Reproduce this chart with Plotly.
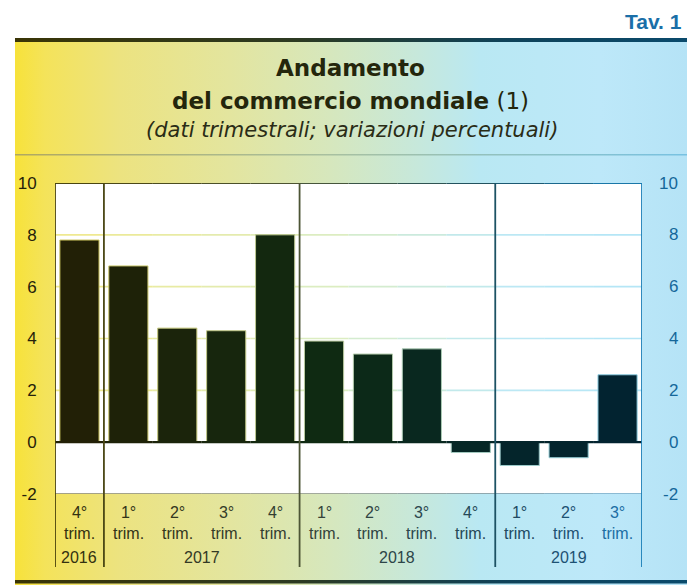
import base64
import plotly.graph_objects as go

# trimestri e variazioni percentuali
quarters = ["4°", "1°", "2°", "3°", "4°", "1°", "2°", "3°", "4°", "1°", "2°", "3°"]
values = [7.8, 6.8, 4.4, 4.3, 8.0, 3.9, 3.4, 3.6, -0.4, -0.9, -0.6, 2.6]
years = ["2016", "2017", "2018", "2019"]
year_len = [1, 4, 4, 3]
y_ticks = [-2, 0, 2, 4, 6, 8, 10]
y_labels = ["-2", "0", "2", "4", "6", "8", "10"]

W, H = 687, 585
L, R, T, B = 55, 642, 183, 494
n = len(values)


def px(x):
    return (x - L) / (R - L)


def py(y):
    return (B - y) / (B - T)


def xpix(i):
    return L + (i + 0.5) * (R - L) / n


def hexrgb(h):
    return tuple(int(h[i:i + 2], 16) for i in (1, 3, 5))


def mix(stops, x):
    if x <= stops[0][0]:
        return stops[0][1]
    for (x0, c0), (x1, c1) in zip(stops, stops[1:]):
        if x <= x1:
            f = (x - x0) / (x1 - x0)
            a, b = hexrgb(c0), hexrgb(c1)
            return "#%02x%02x%02x" % tuple(round(a[k] + (b[k] - a[k]) * f) for k in range(3))
    return stops[-1][1]


bg_stops = [(15, "#f7e23a"), (45, "#f4e35a"), (120, "#ece380"), (230, "#e3e59f"),
            (330, "#d6e7bd"), (420, "#c6e8dc"), (480, "#b9e8f3"), (600, "#bde8f9"), (687, "#b5e3f6")]
dark_stops = [(15, "#3a3506"), (300, "#2c3a22"), (500, "#0f4258"), (687, "#0a4a6c")]
thin_stops = [(15, "#b0a860"), (330, "#a8c0a0"), (687, "#78c2e2")]
bar_stops = [(55, "#241f05"), (330, "#0f2a12"), (500, "#04262a"), (642, "#012231")]
edge_stops = [(55, "#cfc65a"), (330, "#b8c8a0"), (642, "#8ccfe6")]
grid_stops = [(55, "#f1e98c"), (330, "#dcedc2"), (500, "#bde8f4"), (642, "#b3e5f6")]
frame_stops = [(55, "#4a430c"), (300, "#4c5535"), (495, "#1d5264"), (642, "#1a7eb6")]
label_stops = [(55, "#332f0c"), (330, "#33423a"), (560, "#1c4c6a"), (642, "#1a7dbd")]


def grad_svg():
    def lg(name, stops):
        s = "".join('<stop offset="%.4f" stop-color="%s"/>' % ((x - 15) / 672, c) for x, c in stops)
        return '<linearGradient id="%s" x1="0" x2="1" y1="0" y2="0">%s</linearGradient>' % (name, s)
    svg = ('<svg xmlns="http://www.w3.org/2000/svg" width="672" height="547" viewBox="0 0 672 547" preserveAspectRatio="none">'
           '<defs>' + lg("bg", bg_stops) + lg("dk", dark_stops) + lg("th", thin_stops) + '</defs>'
           '<rect x="0" y="0" width="672" height="547" fill="url(#bg)"/>'
           '<rect x="0" y="0" width="672" height="4" fill="url(#dk)"/>'
           '<rect x="0" y="116" width="672" height="1.5" fill="url(#th)"/>'
           '<rect x="0" y="542" width="672" height="3.5" fill="url(#dk)"/>'
           '</svg>')
    return "data:image/svg+xml;base64," + base64.b64encode(svg.encode()).decode()


bar_colors = [mix(bar_stops, xpix(i)) for i in range(n)]
edge_colors = [mix(edge_stops, xpix(i)) for i in range(n)]

fig = go.Figure(go.Bar(
    x=list(range(n)), y=values,
    marker=dict(color=bar_colors, line=dict(width=1, color=edge_colors)),
    width=0.8,
))

shapes = [dict(type="rect", xref="paper", yref="paper", x0=0, x1=1, y0=0, y1=1,
               fillcolor="white", line=dict(width=0), layer="below")]

# griglia orizzontale sfumata
for g in [2, 4, 6, 8]:
    for i in range(n):
        shapes.append(dict(type="line", xref="x", yref="y", x0=i - 0.5, x1=i + 0.5, y0=g, y1=g,
                           line=dict(color=mix(grid_stops, xpix(i)), width=1.6), layer="below"))

# cornice superiore e inferiore
for i in range(n):
    c = mix(frame_stops, xpix(i))
    shapes.append(dict(type="line", xref="x", yref="y", x0=i - 0.5, x1=i + 0.5, y0=10, y1=10,
                       line=dict(color=c, width=1.8), layer="above"))
    shapes.append(dict(type="line", xref="x", yref="y", x0=i - 0.5, x1=i + 0.5, y0=-2, y1=-2,
                       line=dict(color=c, width=1.2), layer="above"))
    shapes.append(dict(type="line", xref="x", yref="y", x0=i - 0.5, x1=i + 0.5, y0=0, y1=0,
                       line=dict(color=mix(bar_stops, xpix(i)), width=2.4), layer="above"))

# separatori verticali degli anni
edges = [-0.5]
for k in year_len:
    edges.append(edges[-1] + k)
for e in edges:
    xp = L + (e + 0.5) * (R - L) / n
    shapes.append(dict(type="line", xref="x", yref="paper", x0=e, x1=e, y0=py(567), y1=1,
                       line=dict(color=mix(frame_stops, xp), width=1.8), layer="above"))

annotations = []
for i, q in enumerate(quarters):
    annotations.append(dict(x=i, y=py(502), xref="x", yref="paper", yanchor="top", showarrow=False,
                            text=q + "<br>trim.",
                            font=dict(family="Liberation Sans", size=16, color=mix(label_stops, xpix(i)))))
for k, (yr, ln) in enumerate(zip(years, year_len)):
    mid = (edges[k] + edges[k + 1]) / 2
    annotations.append(dict(x=mid, y=py(557), xref="x", yref="paper", yanchor="middle", showarrow=False,
                            text=yr,
                            font=dict(family="Liberation Sans", size=16,
                                      color=mix(label_stops, L + (mid + 0.5) * (R - L) / n))))
for t, lab in zip(y_ticks, y_labels):
    annotations.append(dict(x=px(680), y=t, xref="paper", yref="y", xanchor="right", yanchor="middle",
                            showarrow=False, text=lab,
                            font=dict(family="Liberation Sans", size=17, color="#14679a")))

title_col = "#24260c"
annotations += [
    dict(x=px(351), y=py(68), xref="paper", yref="paper", showarrow=False, yanchor="middle",
         text="<b>Andamento</b>", font=dict(family="DejaVu Sans", size=23, color=title_col)),
    dict(x=px(351), y=py(101), xref="paper", yref="paper", showarrow=False, yanchor="middle",
         text="<b>del commercio mondiale</b> (1)", font=dict(family="DejaVu Sans", size=23, color=title_col)),
    dict(x=px(352), y=py(130), xref="paper", yref="paper", showarrow=False, yanchor="middle",
         text="<i>(dati trimestrali; variazioni percentuali)</i>",
         font=dict(family="DejaVu Sans", size=21, color="#2a2c16")),
    dict(x=px(684), y=py(21), xref="paper", yref="paper", showarrow=False, xanchor="right", yanchor="middle",
         text="<b>Tav. 1</b>", font=dict(family="Liberation Sans", size=21, color="#1a6fa8")),
]

fig.update_layout(
    width=W, height=H,
    margin=dict(l=L, r=W - R, t=T, b=H - B),
    paper_bgcolor="white", plot_bgcolor="rgba(0,0,0,0)",
    showlegend=False, bargap=0.2,
    shapes=shapes, annotations=annotations,
    images=[dict(source=grad_svg(), xref="paper", yref="paper", x=px(15), y=py(38),
                 sizex=(687 - 15) / (R - L), sizey=547 / (B - T), sizing="stretch",
                 xanchor="left", yanchor="top", layer="below")],
)
fig.update_xaxes(range=[-0.5, n - 0.5], showticklabels=False, showgrid=False, zeroline=False,
                 showline=False, fixedrange=True)
fig.update_yaxes(range=[-2, 10], tickvals=y_ticks, ticktext=y_labels, showgrid=False, zeroline=False,
                 showline=False, ticks="outside", ticklen=0, ticklabelstandoff=14,
                 tickfont=dict(family="Liberation Sans", size=17, color="#25210a"))

fig.write_html("out.html", config={"displayModeBar": False},
               post_script="document.body.style.margin='0';document.body.style.overflow='hidden';")
